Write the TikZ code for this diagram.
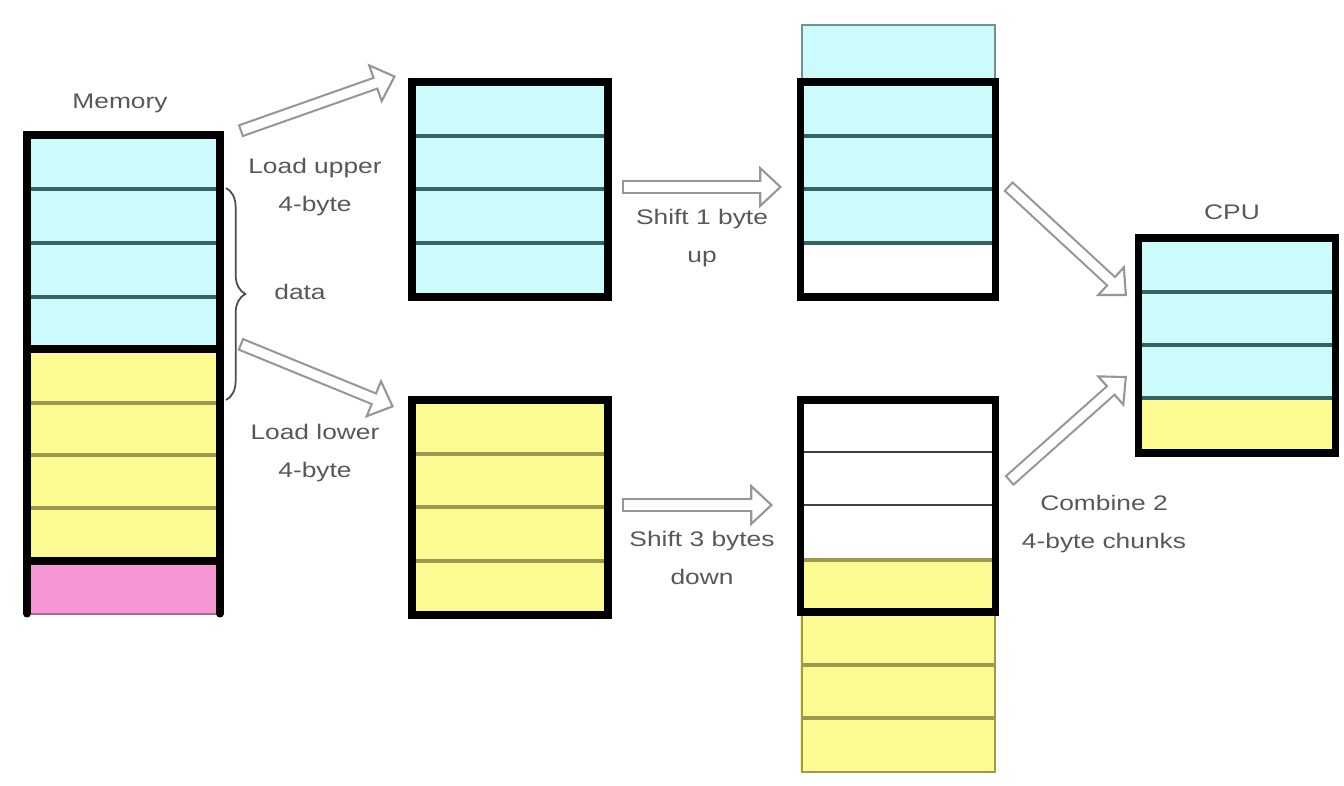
\documentclass[tikz,border=0pt]{standalone}
\usepackage{fontspec}
\setmainfont{Liberation Sans}
\usepackage{tikz}
\usetikzlibrary{arrows.meta}
\usetikzlibrary{decorations.pathreplacing}
\definecolor{byteblue}{RGB}{204,251,251}
\definecolor{byteyellow}{RGB}{251,251,146}
\definecolor{bytepink}{RGB}{245,150,212}
\definecolor{blueline}{RGB}{55,98,98}
\definecolor{yellowline}{RGB}{160,152,80}
\definecolor{labelgray}{RGB}{88,88,88}
\definecolor{arrowgray}{RGB}{150,150,150}
\tikzstyle{frame} = [line width=4pt, draw=black, line cap=round]
\tikzstyle{bline} = [line width=1.9pt, draw=blueline]
\tikzstyle{yline} = [line width=1.9pt, draw=yellowline]
\tikzstyle{wline} = [line width=1.4pt, draw=black!75]
\tikzstyle{lbl} = [font=\fontsize{12}{21.5}\selectfont, text=labelgray, align=center, xscale=1.25]
\tikzstyle{hollow} = [draw=arrowgray, line width=7.6pt,
  -{Triangle[fill=white, length=13pt, width=24pt, line width=1.2pt]},
  postaction={draw=white, line width=5.2pt, -{}, shorten <=1.2pt, shorten >=11.5pt}]

\begin{document}
\begin{tikzpicture}[x=0.02cm, y=-0.02cm]
				\useasboundingbox (0,0) rectangle (1344,786);
				%%%%%%%%%%%%%%%%%%%%%%%%%%%%%%%%%%
				% memory
				\fill[byteblue] (27,135) rectangle (220,349);
				\fill[byteyellow] (27,349) rectangle (220,561);
				\fill[bytepink] (27,561) rectangle (220,614);
				\foreach \y in {189,243,297} \draw[bline] (27,\y) -- (220,\y);
				\foreach \y in {403,455,508} \draw[yline] (27,\y) -- (220,\y);
				\draw[line width=1pt, draw=bytepink!70!black] (27,614) -- (220,614);
				\draw[frame] (27,614) -- (27,135) -- (220,135) -- (220,614);
				\draw[frame] (27,349) -- (220,349);
				\draw[frame] (27,561) -- (220,561);
				\node[lbl] (mem) at (120,103) {Memory};
				\draw[line width=1pt, draw=black!70, decorate, decoration={brace, amplitude=11pt}] (226,188) -- (226,400);
				\node[lbl] (data) at (300,292) {data};
				%%%%%%%%%%%%%%%%%%%%%%%%%%%%%%%%%%
				% loaded words
				\fill[byteblue] (412,82) rectangle (608,297);
				\foreach \y in {136,189,243} \draw[bline] (412,\y) -- (608,\y);
				\draw[frame] (412,82) rectangle (608,297);
				\fill[byteyellow] (412,400) rectangle (608,615);
				\foreach \y in {454,507,561} \draw[yline] (412,\y) -- (608,\y);
				\draw[frame] (412,400) rectangle (608,615);
				%%%%%%%%%%%%%%%%%%%%%%%%%%%%%%%%%%
				% shifted words
				\fill[byteblue] (802,25) rectangle (995,243);
				\draw[line width=1pt, draw=blueline!70] (802,82) -- (802,25) -- (995,25) -- (995,82);
				\foreach \y in {136,189,243} \draw[bline] (800,\y) -- (995,\y);
				\draw[frame] (800,82) rectangle (995,297);
				\fill[byteyellow] (800,560) rectangle (995,772);
				\foreach \y in {452,505} \draw[wline] (800,\y) -- (995,\y);
				\draw[yline] (800,560) -- (995,560);
				\foreach \y in {665,718} \draw[yline] (802,\y) -- (995,\y);
				\draw[line width=1pt, draw=yellowline] (802,612) -- (802,772) -- (995,772) -- (995,612);
				\draw[frame] (800,400) rectangle (995,612);
				%%%%%%%%%%%%%%%%%%%%%%%%%%%%%%%%%%
				% cpu register
				\fill[byteblue] (1138,238) rectangle (1335,398);
				\fill[byteyellow] (1138,398) rectangle (1335,453);
				\foreach \y in {292,345,398} \draw[bline] (1138,\y) -- (1335,\y);
				\draw[frame] (1138,238) rectangle (1335,453);
				\node[lbl] (cpu) at (1232,212) {CPU};
				%%%%%%%%%%%%%%%%%%%%%%%%%%%%%%%%%%
				\coordinate (ldup-s) at (240,131);
				\coordinate (ldup-e) at (396,76);
				\coordinate (ldlo-s) at (240,344);
				\coordinate (ldlo-e) at (394,407);
				\coordinate (shup-s) at (622,187);
				\coordinate (shup-e) at (782,187);
				\coordinate (shdn-s) at (622,505);
				\coordinate (shdn-e) at (773,505);
				\coordinate (cbup-s) at (1008,186);
				\coordinate (cbup-e) at (1127,296);
				\coordinate (cblo-s) at (1009,481);
				\coordinate (cblo-e) at (1127,376);
				\draw[hollow] (ldup-s) -- (ldup-e);
				\draw[hollow] (ldlo-s) -- (ldlo-e);
				\draw[hollow] (shup-s) -- (shup-e);
				\draw[hollow] (shdn-s) -- (shdn-e);
				\draw[hollow] (cbup-s) -- (cbup-e);
				\draw[hollow] (cblo-s) -- (cblo-e);
				\node[lbl] (ldup) at (315,187) {Load upper\\4-byte};
				\node[lbl] (ldlo) at (315,453) {Load lower\\4-byte};
				\node[lbl] (shup) at (702,238) {Shift 1 byte\\up};
				\node[lbl] (shdn) at (702,558) {Shift 3 bytes\\down};
				\node[lbl] (cb) at (1104,524) {Combine 2\\4-byte chunks};
			\end{tikzpicture}
\end{document}
